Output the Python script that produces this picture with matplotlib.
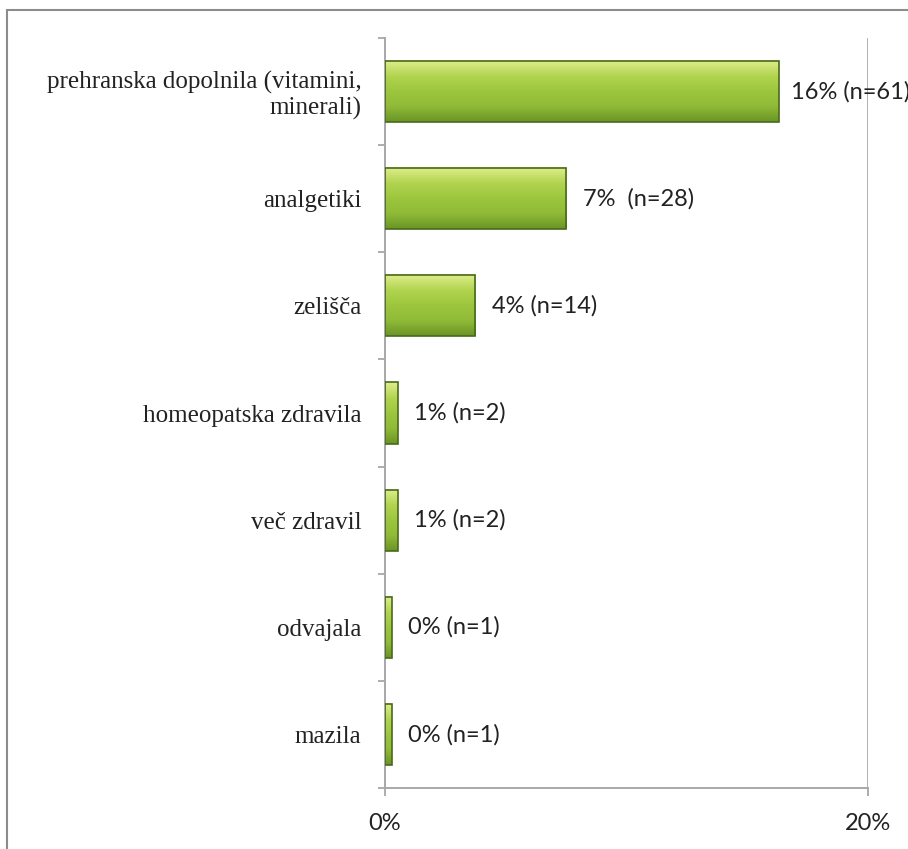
import matplotlib.pyplot as plt
import matplotlib.patches as mpatches
import numpy as np
from matplotlib.colors import LinearSegmentedColormap

categories = ['prehranska dopolnila (vitamini,\nminerali)', 'analgetiki', 'zelišča',
              'homeopatska zdravila', 'več zdravil', 'odvajala', 'mazila']
percent = [16.3, 7.5, 3.73, 0.53, 0.53, 0.27, 0.27]
value_labels = ['16% (n=61)', '7%  (n=28)', '4% (n=14)', '1% (n=2)', '1% (n=2)',
                '0% (n=1)', '0% (n=1)']
x_ticks = [0, 20]
x_tick_labels = ['0%', '20%']

fig = plt.figure(figsize=(9.08, 8.49), dpi=100)
ax = fig.add_axes([385 / 908, 1 - 788 / 849, 483 / 908, 750 / 849])

# outer frame of the chart area (cut at the right and bottom edges)
fig.patches.append(mpatches.Rectangle((7 / 908, -0.1), 1.2, 1 - 10 / 849 + 0.1,
                                      transform=fig.transFigure, fill=False,
                                      edgecolor='#8c8c8c', linewidth=1.5))

y = np.arange(len(categories))
bars = ax.barh(y, percent, height=0.57, facecolor='none', edgecolor='#4a6a1c',
               linewidth=1.2, zorder=3)

# vertical gradient to imitate the bevelled bars
grad = LinearSegmentedColormap.from_list('g', ['#dfee8c', '#b2d450', '#9dc63e',
                                               '#90bb38', '#6a9526'])
for b in bars:
    x0, y0 = b.get_x(), b.get_y()
    w, h = b.get_width(), b.get_height()
    ax.imshow(np.linspace(0, 1, 64).reshape(-1, 1), cmap=grad, aspect='auto',
              extent=(x0, x0 + w, y0 + h, y0), zorder=2.5, interpolation='bilinear')

for i, (b, lab) in enumerate(zip(bars, value_labels)):
    gap = 0.52 if i == 0 else 0.68
    ax.text(b.get_width() + gap, b.get_y() + b.get_height() / 2, lab,
            va='center', ha='left', fontsize=17, family='Lato', color='#222222',
            clip_on=False)

ax.set_xlim(0, 20)
ax.set_ylim(len(categories) - 0.5, -0.5)
ax.set_xticks(x_ticks)
ax.set_xticklabels(x_tick_labels, family='Lato', fontsize=17, color='#222222')
ax.set_yticks(y)
ax.set_yticklabels(categories, family='Liberation Serif', fontsize=18, ma='right',
                   color='#222222', linespacing=1.15)
ax.set_yticks(np.arange(len(categories) + 1) - 0.5, minor=True)
ax.tick_params(axis='y', which='major', length=0, pad=17)
ax.tick_params(axis='y', which='minor', length=5, color='#a0a0a0', width=1.2)
ax.tick_params(axis='x', length=6, color='#a0a0a0', width=1.2, pad=12)
ax.xaxis.grid(True, color='#b0b0b0', linewidth=1.4)
ax.set_axisbelow(True)
for s in ['top', 'right']:
    ax.spines[s].set_visible(False)
for s in ['left', 'bottom']:
    ax.spines[s].set_color('#a8a8a8')
    ax.spines[s].set_linewidth(1.4)

fig.savefig('out.png', dpi=100)
